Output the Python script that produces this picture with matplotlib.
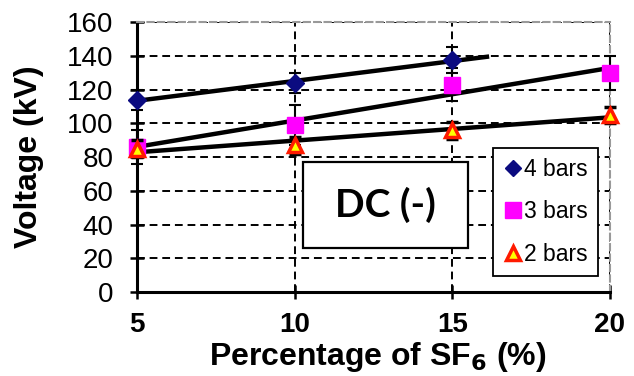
import matplotlib.pyplot as plt
import matplotlib.patches as mpatches
import numpy as np

plt.rcParams['font.family'] = ['Liberation Sans', 'DejaVu Sans']

sf6 = [5, 10, 15, 20]
v4 = [114, 124, 137.5]
v3 = [86, 99, 123, 130]
v2 = [85, 87, 96, 105]
e4 = [6, 6, 7.5]
e3 = [10, 12, 10, 10]
e2 = [5, 5, 5, 5]

fig = plt.figure(figsize=(6.34, 3.76), dpi=100)
ax = fig.add_axes([0.216, 0.223, 0.746, 0.718])

# linear trend lines
for x, y, xe in [(sf6[:3], v4, 16.1), (sf6, v3, 20), (sf6, v2, 20)]:
    p = np.polyfit(x, y, 1)
    xx = np.array([5, xe])
    ax.plot(xx, np.polyval(p, xx), color='black', lw=3.2, zorder=3)

ebkw = dict(ecolor='black', elinewidth=1.5, capsize=4, capthick=1.5, clip_on=False, ls='none')
eb4 = ax.errorbar(sf6[:3], v4, yerr=e4, marker='D', color='#0b0b80', ms=9,
                  label='4 bars', zorder=4, **ebkw)
eb3 = ax.errorbar(sf6, v3, yerr=e3, marker='s', color='#ff00ff', ms=12,
                  label='3 bars', zorder=4, **ebkw)
eb2 = ax.errorbar(sf6, v2, yerr=e2, marker='^', mfc='#ffff00', mec='#ff1a00', mew=2.5,
                  ms=10, label='2 bars', zorder=5, **ebkw)

ax.set_xlim(5, 20)
ax.set_ylim(0, 160)
ax.set_xticks(sf6)
ax.set_yticks(range(0, 161, 20))
ax.grid(True, color='black', linestyle=(0, (4, 2.5)), lw=1.4)
ax.tick_params(axis='both', direction='inout', length=10, width=1.8, labelsize=20)
ax.tick_params(axis='y', pad=12)
ax.tick_params(axis='x', pad=9)
for lab in ax.get_xticklabels():
    lab.set_fontweight('bold')
for side in ['top', 'right']:
    ax.spines[side].set_color('#999999')
    ax.spines[side].set_linestyle((0, (3, 2)))
    ax.spines[side].set_linewidth(1.5)
for side in ['left', 'bottom']:
    ax.spines[side].set_linewidth(2.2)

fig.text(378 / 634, 1 - 357 / 376, 'Percentage of SF$_\\mathbf{6}$ (%)', fontsize=23,
         fontweight='bold', ha='center', va='center')
fig.text(29 / 634, 1 - 157 / 376, 'Voltage (kV)', fontsize=23, fontweight='bold',
         ha='center', va='center', rotation=90)

# DC (-) label box
ax.add_patch(mpatches.Rectangle((0.351, 0.163), 0.349, 0.318, transform=ax.transAxes,
                                fc='white', ec='black', lw=1.6, zorder=6))
ax.text(0.526, 0.322, 'DC (-)', transform=ax.transAxes, fontsize=28, fontweight='bold',
        ha='center', va='center', family=['Lato', 'DejaVu Sans'], zorder=7)

leg = ax.legend([eb4[0], eb3[0], eb2[0]], ['4 bars', '3 bars', '2 bars'],
                loc='lower right', bbox_to_anchor=(0.975, 0.059), borderaxespad=0,
                fontsize=16.5, frameon=True, fancybox=False, edgecolor='black',
                handletextpad=0.1, labelspacing=0.85, handlelength=0.8, borderpad=0.45,
                framealpha=1)
leg.get_frame().set_linewidth(1.3)
for line, ms in zip(leg.get_lines(), [8, 11, 10]):
    line.set_markersize(ms)
leg.set_zorder(8)

fig.savefig('out.png', dpi=100)
